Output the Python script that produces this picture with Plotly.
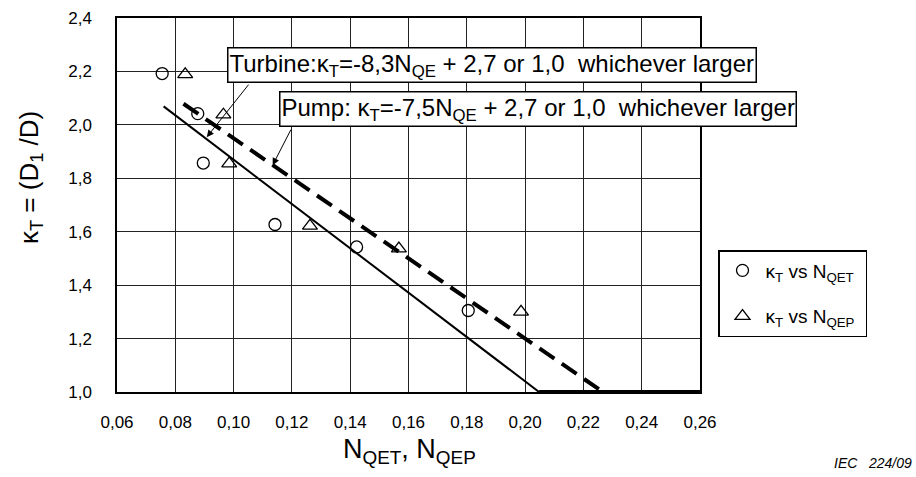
import plotly.graph_objects as go

# ---- data ----
nqet_x = [0.0755, 0.0877, 0.0896, 0.1142, 0.1422, 0.1805]
nqet_k = [2.192, 2.042, 1.857, 1.627, 1.543, 1.305]
nqep_x = [0.0834, 0.0965, 0.0985, 0.1262, 0.1567, 0.1986]
nqep_k = [2.189, 2.038, 1.855, 1.622, 1.537, 1.300]

turbine_x = [0.0760, 0.2048]
turbine_k = [2.069, 1.000]
floor_x = [0.2048, 0.2600]
floor_k = [1.000, 1.000]
pump_x = [0.0828, 0.2267]
pump_k = [2.079, 1.000]

x_ticks = [0.06, 0.08, 0.10, 0.12, 0.14, 0.16, 0.18, 0.20, 0.22, 0.24, 0.26]
x_tick_text = ["0,06", "0,08", "0,10", "0,12", "0,14", "0,16", "0,18", "0,20", "0,22", "0,24", "0,26"]
y_ticks = [1.0, 1.2, 1.4, 1.6, 1.8, 2.0, 2.2, 2.4]
y_tick_text = ["1,0", "1,2", "1,4", "1,6", "1,8", "2,0", "2,2", "2,4"]

turbine_arrow_tip = (0.0908, 1.954)
pump_arrow_tip = (0.1134, 1.849)

FONT = "Liberation Sans, Arial, sans-serif"

L, R, T, B = 117, 216, 18, 85
W, H = 916, 477
pw, ph = W - L - R, H - T - B


def px_to_paper(px, py):
    return (px - L) / pw, 1 - (py - T) / ph


fig = go.Figure()

fig.add_trace(go.Scatter(x=turbine_x, y=turbine_k, mode="lines",
                         line=dict(color="black", width=2), showlegend=False,
                         hoverinfo="skip"))
fig.add_trace(go.Scatter(x=pump_x, y=pump_k, mode="lines",
                         line=dict(color="black", width=4, dash="18px,9px"),
                         showlegend=False, hoverinfo="skip"))
fig.add_trace(go.Scatter(x=floor_x, y=floor_k, mode="lines",
                         line=dict(color="black", width=4), showlegend=False,
                         cliponaxis=False, hoverinfo="skip"))

fig.add_trace(go.Scatter(x=nqet_x, y=nqet_k, mode="markers",
                         name="κ<sub>T</sub> vs N<sub>QET</sub> ",
                         legendgroup="a",
                         marker=dict(symbol="circle-open", size=12, color="black",
                                     line=dict(width=1.3)),
                         cliponaxis=False))
fig.add_trace(go.Scatter(x=nqep_x, y=nqep_k, mode="markers",
                         name="κ<sub>T</sub> vs N<sub>QEP</sub> ",
                         legendgroup="b",
                         marker=dict(symbol="triangle-up-open", size=13, color="black",
                                     line=dict(width=1.3)),
                         cliponaxis=False))

axis_common = dict(showgrid=True, gridcolor="#222", gridwidth=1,
                   showline=True, linecolor="black", linewidth=1.5, mirror=True,
                   zeroline=False, ticks="",
                   tickfont=dict(family=FONT, size=17, color="black"))

fig.update_xaxes(range=[0.06, 0.26], tickvals=x_ticks, ticktext=x_tick_text,
                 ticklabelstandoff=14, **axis_common)
fig.update_yaxes(range=[1.0, 2.4], tickvals=y_ticks, ticktext=y_tick_text,
                 ticklabelstandoff=20, **axis_common)

ylab_x, ylab_y = px_to_paper(31, 178)
xlab_x, xlab_y = px_to_paper(409, 451)
iec_x, iec_y = px_to_paper(914, 463)

annotations = [
    dict(x=0.1888, y=2.2254, xref="x", yref="y", showarrow=False,
         text="Turbine:κ<sub>T</sub>=-8,3N<sub>QE</sub> + 2,7 or 1,0  whichever larger",
         font=dict(family=FONT, size=24, color="black"),
         bgcolor="white", bordercolor="black", borderwidth=1.5, borderpad=1),
    dict(x=0.2045, y=2.0605, xref="x", yref="y", showarrow=False,
         text="Pump: κ<sub>T</sub>=-7,5N<sub>QE</sub> + 2,7 or 1,0  whichever larger",
         font=dict(family=FONT, size=24, color="black"),
         bgcolor="white", bordercolor="black", borderwidth=1.5, borderpad=1),
    dict(x=turbine_arrow_tip[0], y=turbine_arrow_tip[1], xref="x", yref="y",
         text="", showarrow=True, ax=43, ay=-54, arrowhead=2, arrowsize=1.4,
         arrowwidth=1, arrowcolor="black"),
    dict(x=pump_arrow_tip[0], y=pump_arrow_tip[1], xref="x", yref="y",
         text="", showarrow=True, ax=19, ay=-37, arrowhead=2, arrowsize=1.4,
         arrowwidth=1, arrowcolor="black"),
    dict(x=ylab_x, y=ylab_y, xref="paper", yref="paper", showarrow=False,
         text="κ<sub>T</sub> = (D<sub>1</sub> /D)", textangle=-90,
         font=dict(family=FONT, size=26, color="black"),
         xanchor="center", yanchor="middle"),
    dict(x=xlab_x, y=xlab_y, xref="paper", yref="paper", showarrow=False,
         text="N<sub>QET</sub>, N<sub>QEP</sub>",
         font=dict(family=FONT, size=27, color="black"),
         xanchor="center", yanchor="middle"),
    dict(x=iec_x, y=iec_y, xref="paper", yref="paper", showarrow=False,
         text="<i>IEC   224/09</i>",
         font=dict(family=FONT, size=14, color="black"),
         xanchor="right", yanchor="middle"),
]

leg_x, leg_y = px_to_paper(718, 250)

fig.update_layout(
    width=W, height=H,
    margin=dict(l=L, r=R, t=T, b=B, autoexpand=False),
    paper_bgcolor="white", plot_bgcolor="white",
    font=dict(family=FONT, color="black"),
    showlegend=True,
    legend=dict(x=leg_x, y=leg_y, xanchor="left", yanchor="top",
                bordercolor="black", borderwidth=1.5, bgcolor="white",
                font=dict(family=FONT, size=19, color="black"),
                itemwidth=36,
                traceorder="grouped", tracegroupgap=18),
    annotations=annotations,
)

fig.write_html("out.html")
